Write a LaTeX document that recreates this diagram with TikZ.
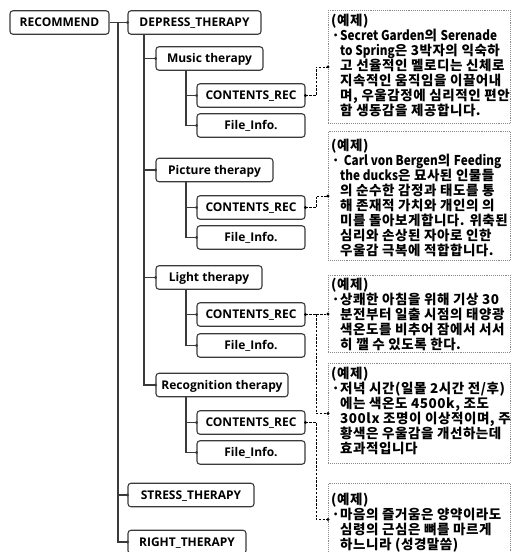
\documentclass[tikz,border=0pt]{standalone}
\usepackage{fontspec}
\setmainfont{Open Sans}
\newfontfamily\krfont{Noto Sans CJK KR}[LetterSpace=4]
\newfontfamily\latf{Noto Sans CJK KR}[FakeStretch=0.87]
\definecolor{treeink}{HTML}{3A3A3A}
\definecolor{noteedge}{HTML}{8A8A8A}
\newcommand{\notebul}{\makebox[9pt][c]{·}}
% a note: first two lines flush, the rest hang under the bullet text
\newcommand{\notepar}[1]{\parbox[t]{300pt}{\rightskip=0pt plus 1fil\relax
  \hangindent=9pt\hangafter=2\relax\noindent #1}}
\begin{document}
\begin{tikzpicture}[x=1pt,y=-1pt,
  treenode/.style={draw=treeink, line width=1.1pt, rounded corners=3pt,
    minimum height=23.5pt, inner sep=0pt, text height=10pt, text depth=1.4pt,
    fill=white, font=\bfseries\fontsize{12}{14}\selectfont},
  treeline/.style={draw=treeink, line width=1.1pt},
  notebox/.style={draw=noteedge, line width=0.8pt, dash pattern=on 0.8pt off 1.1pt,
    inner sep=0pt, anchor=north west, minimum width=182pt},
  notetext/.style={inner sep=0pt, anchor=base west},
  dashconn/.style={draw=black, line width=0.8pt, dash pattern=on 2.4pt off 1.4pt},
  jointdot/.style={fill=black}
]
\useasboundingbox (0,0) rectangle (511,552);

% guide columns of the tree
\coordinate (tx1) at (118,0);
\coordinate (tx2) at (144,0);
\coordinate (tx3) at (186,0);
\coordinate (tx4) at (316,0);

% tree nodes
\node[treenode, minimum width=99pt]  (rec)    at (59.5,22.5) {RECOMMEND};
\node[treenode, minimum width=133pt] (dep)    at (194.5,22.5) {DEPRESS\_THERAPY};
\node[treenode, minimum width=107pt] (music)  at (209.5,58.5) {Music therapy};
\node[treenode, minimum width=108pt] (cr1)    at (251,95.5) {CONTENTS\_REC};
\node[treenode, minimum width=108pt] (fi1)    at (251,125.5) {File\_Info.};
\node[treenode, minimum width=117pt] (pic)    at (214.5,170) {Picture therapy};
\node[treenode, minimum width=108pt] (cr2)    at (251,207.5) {CONTENTS\_REC};
\node[treenode, minimum width=108pt] (fi2)    at (251,237.5) {File\_Info.};
\node[treenode, minimum width=106pt] (light)  at (209,277.5) {Light therapy};
\node[treenode, minimum width=108pt] (cr3)    at (251,314.5) {CONTENTS\_REC};
\node[treenode, minimum width=108pt] (fi3)    at (251,345.5) {File\_Info.};
\node[treenode, minimum width=132pt] (recog)  at (222,385) {Recognition therapy};
\node[treenode, minimum width=108pt] (cr4)    at (251,422.5) {CONTENTS\_REC};
\node[treenode, minimum width=108pt] (fi4)    at (251,452.5) {File\_Info.};
\node[treenode, minimum width=126pt] (stress) at (191,495) {STRESS\_THERAPY};
\node[treenode, minimum width=118pt] (right)  at (187,542) {RIGHT\_THERAPY};

% tree connectors
\draw[treeline] (rec.east) -- (rec.east -| tx1) |- (right.west);
\draw[treeline] (rec.east -| tx1) -- (dep.west);
\draw[treeline] (rec.east -| tx1) |- (stress.west);
\draw[treeline] (dep.south -| tx2) |- (recog.west);
\foreach \t in {music,pic,light}
  \draw[treeline] (dep.south -| tx2) |- (\t.west);
\foreach \t/\c/\f in {music/cr1/fi1,pic/cr2/fi2,light/cr3/fi3,recog/cr4/fi4}{
  \draw[treeline] (\t.south -| tx3) |- (\f.west);
  \draw[treeline] (\t.south -| tx3) |- (\c.west);
}
\foreach \t in {dep,music,cr1,fi1,pic,cr2,fi2,light,cr3,fi3,recog,cr4,fi4,stress,right}
  \fill[treeink] (\t.west) circle (1.6pt);

% example notes
\node[notebox, minimum height=113pt] (n1) at (328,10) {};
\node[notebox, minimum height=129pt] (n2) at (328,131) {};
\node[notebox, minimum height=77pt]  (n3) at (328,275) {};
\node[notebox, minimum height=100pt] (n4) at (328,363) {};
\node[notebox, minimum height=72pt]  (n5) at (328,483) {};

\begin{scope}[font=\krfont\bfseries\fontsize{13.5}{15}\selectfont]
\node[notetext] (t1) at (331,25) {\notepar{%
(예제)\\
\notebul{\latf Secret Garden}의 {\latf Serenade}\\
{\latf to Spring}은 3박자의 익숙하\\
고 선율적인 멜로디는 신체로\\
지속적인 움직임을 이끌어내\\
며, 우울감정에 심리적인 편안\\
함 생동감을 제공합니다.}};
\node[notetext] (t2) at (331,150) {\notepar{%
(예제)\\
\notebul\ {\latf Carl von Bergen}의 {\latf Feeding}\\
{\latf the ducks}은 묘사된 인물들\\
의 순수한 감정과 태도를 통\\
해 존재적 가치와 개인의 의\\
미를 돌아보게합니다. 위축된\\
심리와 손상된 자아로 인한\\
우울감 극복에 적합합니다.}};
\node[notetext] (t3) at (331,289) {\notepar{%
(예제)\\
\notebul 상쾌한 아침을 위해 기상 30\\
분전부터 일출 시점의 태양광\\
색온도를 비추어 잠에서 서서\\
히 깰 수 있도록 한다.}};
\node[notetext] (t4) at (331,378) {\notepar{%
(예제)\\
\notebul 저녁 시간(일몰 2시간 전/후)\\
에는 색온도 4500k, 조도\\
300lx 조명이 이상적이며, 주\\
황색은 우울감을 개선하는데\\
효과적입니다}};
\node[notetext] (t5) at (331,504) {\notepar{%
(예제)\\
\notebul 마음의 즐거움은 양약이라도\\
심령의 근심은 뼈를 마르게\\
하느니라 (성경말씀)}};
\end{scope}

% links from contents to notes
\draw[dashconn] (cr1.east) -- (cr1.east -| tx4) |- (n1.west);
\draw[dashconn] (cr2.east) -- (cr2.east -| tx4) |- (n2.west);
\draw[dashconn] (cr3.east) -- (cr3.east -| tx4) |- (n3.west);
\draw[dashconn] (cr3.east -| tx4) |- (n4.west);
\draw[dashconn] (cr4.east) -- (cr4.east -| tx4) |- (n5.west);
\foreach \t in {cr1,cr2,cr3,cr4}
  \fill[jointdot] (\t.east) circle (1.6pt);
\foreach \t in {n1,n2,n3,n4,n5}
  \fill[jointdot] (\t.west) circle (1.6pt);
\end{tikzpicture}
\end{document}
